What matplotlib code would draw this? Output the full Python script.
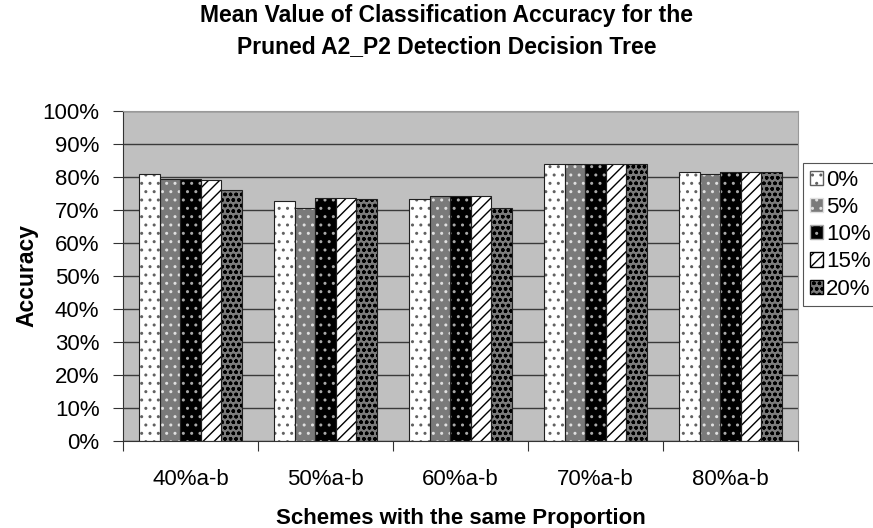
import matplotlib
matplotlib.use("Agg")
import matplotlib.pyplot as plt
import numpy as np
from matplotlib.patches import Patch

plt.rcParams['font.family'] = ['Liberation Sans', 'DejaVu Sans']
plt.rcParams['hatch.linewidth'] = 1.0

categories = ["40%a-b", "50%a-b", "60%a-b", "70%a-b", "80%a-b"]
series_names = ["0%", "5%", "10%", "15%", "20%"]
acc_0 = [80.9, 72.8, 73.2, 83.9, 81.6]
acc_5 = [79.3, 70.5, 74.2, 83.9, 80.9]
acc_10 = [79.3, 73.5, 74.2, 83.9, 81.5]
acc_15 = [79.1, 73.5, 74.2, 83.9, 81.5]
acc_20 = [76.1, 73.3, 70.5, 83.9, 81.5]
series_values = [acc_0, acc_5, acc_10, acc_15, acc_20]
y_ticks = list(range(0, 101, 10))

styles = [
    dict(face="white", hatch="..", hcolor="#606060"),
    dict(face="#7a7a7a", hatch="..", hcolor="#e0e0e0"),
    dict(face="black", hatch="..", hcolor="#aaaaaa"),
    dict(face="white", hatch="///", hcolor="black"),
    dict(face="#7c7c7c", hatch="ooo", hcolor="black"),
]

fig = plt.figure(figsize=(8.73, 5.28), dpi=100)
ax = fig.add_axes([0.1409, 0.1648, 0.9141 - 0.1409, 0.7898 - 0.1648])
ax.set_facecolor("#c0c0c0")

x = np.arange(len(categories))
w = 0.1526
handles = []
for i, (vals, st, name) in enumerate(zip(series_values, styles, series_names)):
    pos = x + (i - 2) * w
    ax.bar(pos, vals, width=w, color=st["face"], hatch=st["hatch"],
           edgecolor=st["hcolor"], linewidth=0, zorder=2)
    ax.bar(pos, vals, width=w, color="none", edgecolor="#202020",
           linewidth=0.8, zorder=3)
    handles.append(Patch(facecolor=st["face"], hatch=st["hatch"],
                         edgecolor=st["hcolor"], label=name))

ax.set_xlim(-0.5, len(categories) - 0.5)
ax.set_ylim(0, 100)
ax.set_yticks(y_ticks)
ax.set_yticklabels([f"{t}%" for t in y_ticks], fontsize=16)
ax.yaxis.grid(True, color="#3a3a3a", linewidth=1.0, zorder=1)
ax.set_axisbelow(True)

ax.set_xticks(np.arange(-0.5, len(categories), 1.0))
ax.set_xticklabels([])
ax.set_xticks(x, minor=True)
ax.set_xticklabels(categories, minor=True, fontsize=16)
ax.tick_params(axis="x", which="minor", length=0, pad=20)
ax.tick_params(axis="x", which="major", length=7, direction="out", color="#333333")
ax.tick_params(axis="y", length=7, direction="out", color="#333333", pad=10)

for s in ["top", "right"]:
    ax.spines[s].set_color("#999999")
for s in ["left", "bottom"]:
    ax.spines[s].set_color("#333333")

ax.set_xlabel("Schemes with the same Proportion", fontsize=16, fontweight="bold", labelpad=13)
ax.set_ylabel("Accuracy", fontsize=16.5, fontweight="bold", labelpad=3)

fig.text(0.512, 0.992, "Mean Value of Classification Accuracy for the\nPruned A2_P2 Detection Decision Tree",
         ha="center", va="top", fontsize=16.5, fontweight="bold", linespacing=1.42)

leg = fig.legend(handles=handles, loc="upper left", bbox_to_anchor=(0.9198, 0.6913),
                 bbox_transform=fig.transFigure, borderaxespad=0, fontsize=16,
                 fancybox=False, framealpha=1, edgecolor="#555555",
                 handlelength=0.6, handleheight=0.6, handletextpad=0.15,
                 labelspacing=0.28, borderpad=0.3)
leg.get_frame().set_linewidth(0.8)

fig.savefig("out.png", dpi=100, facecolor="white")
